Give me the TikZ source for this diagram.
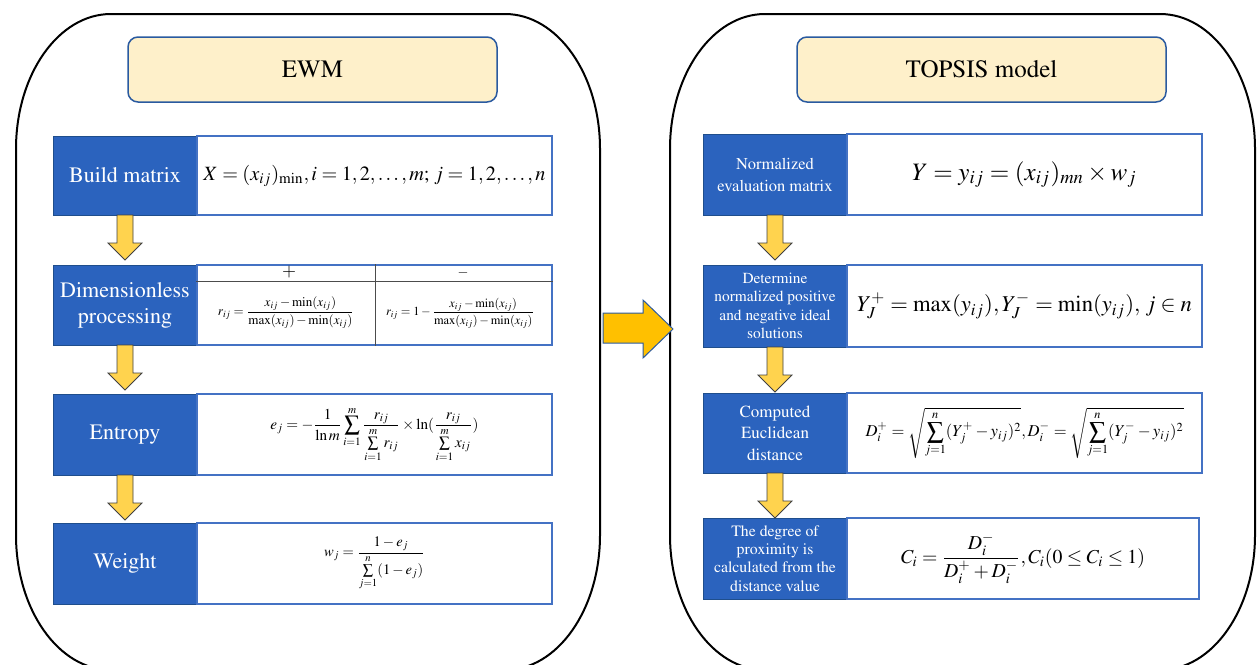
\documentclass[tikz,border=0pt]{standalone}
\usepackage[T1]{fontenc}
\usepackage{mathptmx}
\usepackage{graphicx}
\newcommand{\tnr}{\fontfamily{ptm}\selectfont}
\definecolor{bluefill}{RGB}{43,99,190}
\definecolor{blueborder}{RGB}{31,78,140}
\definecolor{frmborder}{RGB}{68,114,196}
\definecolor{hdrfill}{RGB}{254,240,202}
\definecolor{hdrborder}{RGB}{42,90,160}
\definecolor{arrowyel}{RGB}{255,211,78}
\definecolor{arrowor}{RGB}{255,192,0}
\newcommand{\dnarr}[3]{\filldraw[dnarrow] ({#1-8},#2) -- ({#1+8},#2) -- ({#1+8},{#3-17}) -- ({#1+17},{#3-17}) -- (#1,#3) -- ({#1-17},{#3-17}) -- ({#1-8},{#3-17}) -- cycle;}
\newcommand{\outerbox}[4]{\draw[outer] ({#1+95},#2) -- ({#3-95},#2) arc[start angle=-90,end angle=0,x radius=95,y radius=135] -- (#3,{#4-135}) arc[start angle=0,end angle=90,x radius=95,y radius=135] -- ({#1+95},#4) arc[start angle=90,end angle=180,x radius=95,y radius=135] -- (#1,{#2+135}) arc[start angle=180,end angle=270,x radius=95,y radius=135] -- cycle;}
\begin{document}
\begin{tikzpicture}[x=1pt,y=-1pt,
  outer/.style={draw=black,line width=2pt},
  hdr/.style={draw=hdrborder,fill=hdrfill,line width=1.5pt,rounded corners=10pt,minimum width=369pt,minimum height=65pt,inner sep=0pt,font=\tnr\fontsize{25}{30}\selectfont},
  lbl/.style={draw=blueborder,fill=bluefill,text=white,line width=1pt,minimum width=144pt,inner sep=0pt,align=center},
  frm/.style={draw=frmborder,fill=white,line width=1.2pt,minimum width=355pt,inner sep=0pt},
  dnarrow/.style={fill=arrowyel,draw=black!75,line width=0.8pt,line join=miter},
  bigarrow/.style={fill=arrowor,draw=hdrborder,line width=1pt,line join=miter},
  tbl/.style={draw=black!70,line width=0.8pt},
  lfont/.style={font=\tnr\fontsize{22}{26}\selectfont},
  plain/.style={inner sep=0pt}]
\clip (0,0) rectangle (1260,664);
\outerbox{16}{14}{600}{670}
\outerbox{670}{14}{1255}{670}
% headers
\node[hdr] (ewm) at (312.5,69.5) {EWM};
\node[hdr] (topsis) at (981.5,69.5) {TOPSIS model};
% left column
\node[lbl,lfont,minimum height=79pt] (b1) at (125,175.5) {Build matrix};
\node[frm,minimum height=79pt] (f1) at (374.5,175.5) {\resizebox{342pt}{!}{$X=(x_{ij})_{\mathrm{min}},i=1,2,\ldots,m;\,j=1,2,\ldots,n$}};
\node[lbl,lfont,minimum height=80pt] (b2) at (125,305) {Dimensionless\\processing};
\node[frm,minimum height=80pt] (f2) at (374.5,305) {};
\draw[tbl] (f2.west |- 0,281) -- (f2.east |- 0,281);
\draw[tbl] (375,0 |- f2.north) -- (375,0 |- f2.south);
\node[plain,font=\fontsize{18}{18}\selectfont] (plus) at (289,272) {$+$};
\node[plain,font=\fontsize{14}{14}\selectfont] (minus) at (463,273) {$-$};
\node[plain] (f2a) at (286,313) {\resizebox{136pt}{!}{$\displaystyle r_{ij}=\frac{x_{ij}-\min(x_{ij})}{\max(x_{ij})-\min(x_{ij})}$}};
\node[plain] (f2b) at (460,313) {\resizebox{148pt}{!}{$\displaystyle r_{ij}=1-\frac{x_{ij}-\min(x_{ij})}{\max(x_{ij})-\min(x_{ij})}$}};
\node[lbl,lfont,minimum height=81pt] (b3) at (125,434.5) {Entropy};
\node[frm,minimum height=81pt] (f3) at (374.5,434.5) {\resizebox{208pt}{!}{$\displaystyle e_j=-\frac{1}{\ln m}\sum_{i=1}^{m}\frac{r_{ij}}{\sum\limits_{i=1}^{m}r_{ij}}\times\ln(\frac{r_{ij}}{\sum\limits_{i=1}^{m}x_{ij}})$}};
\node[lbl,lfont,minimum height=81pt] (b4) at (125,563.5) {Weight};
\node[frm,minimum height=81pt] (f4) at (374.5,563.5) {\resizebox{101pt}{!}{$\displaystyle w_j=\frac{1-e_j}{\sum\limits_{j=1}^{n}(1-e_j)}$}};
% right column
\node[lbl,minimum height=81pt,font=\tnr\fontsize{16.5}{22}\selectfont] (c1) at (775,174.5) {Normalized\\evaluation matrix};
\node[frm,minimum height=81pt] (g1) at (1024.5,174.5) {\resizebox{225pt}{!}{$Y=y_{ij}=(x_{ij})_{mn}\times w_j$}};
\node[lbl,minimum height=82pt,font=\tnr\fontsize{15.4}{18.3}\selectfont] (c2) at (775,306) {Determine\\normalized positive\\and negative ideal\\solutions};
\node[frm,minimum height=82pt] (g2) at (1024.5,306) {\resizebox{335pt}{!}{$Y_J^{+}=\max(y_{ij}),Y_J^{-}=\min(y_{ij}),\,j\in n$}};
\node[lbl,minimum height=80pt,font=\tnr\fontsize{17}{21.5}\selectfont] (c3) at (775,433) {Computed\\Euclidean\\distance};
\node[frm,minimum height=80pt] (g3) at (1024.5,433) {\resizebox{318pt}{!}{$\displaystyle D_i^{+}=\sqrt{\sum_{j=1}^{n}(Y_j^{+}-y_{ij})^2},D_i^{-}=\sqrt{\sum_{j=1}^{n}(Y_j^{-}-y_{ij})^2}$}};
\node[lbl,minimum height=81pt,font=\tnr\fontsize{15.8}{18.3}\selectfont] (c4) at (775,558.5) {The degree of\\proximity is\\calculated from the\\distance value};
\node[frm,minimum height=81pt,minimum width=352pt] (g4) at (1023,558.5) {\resizebox{244pt}{!}{$\displaystyle C_i=\frac{D_i^{-}}{D_i^{+}+D_i^{-}},C_i(0\le C_i\le 1)$}};
% down arrows
\dnarr{125}{215}{260}
\dnarr{125}{345}{390}
\dnarr{125}{475}{520}
\dnarr{775}{215}{260}
\dnarr{775}{347}{392}
\dnarr{775}{473}{518}
% big arrow
\filldraw[bigarrow] (603,313) -- (643,313) -- (643,300) -- (673,329) -- (643,358) -- (643,343) -- (603,343) -- cycle;
\end{tikzpicture}
\end{document}
